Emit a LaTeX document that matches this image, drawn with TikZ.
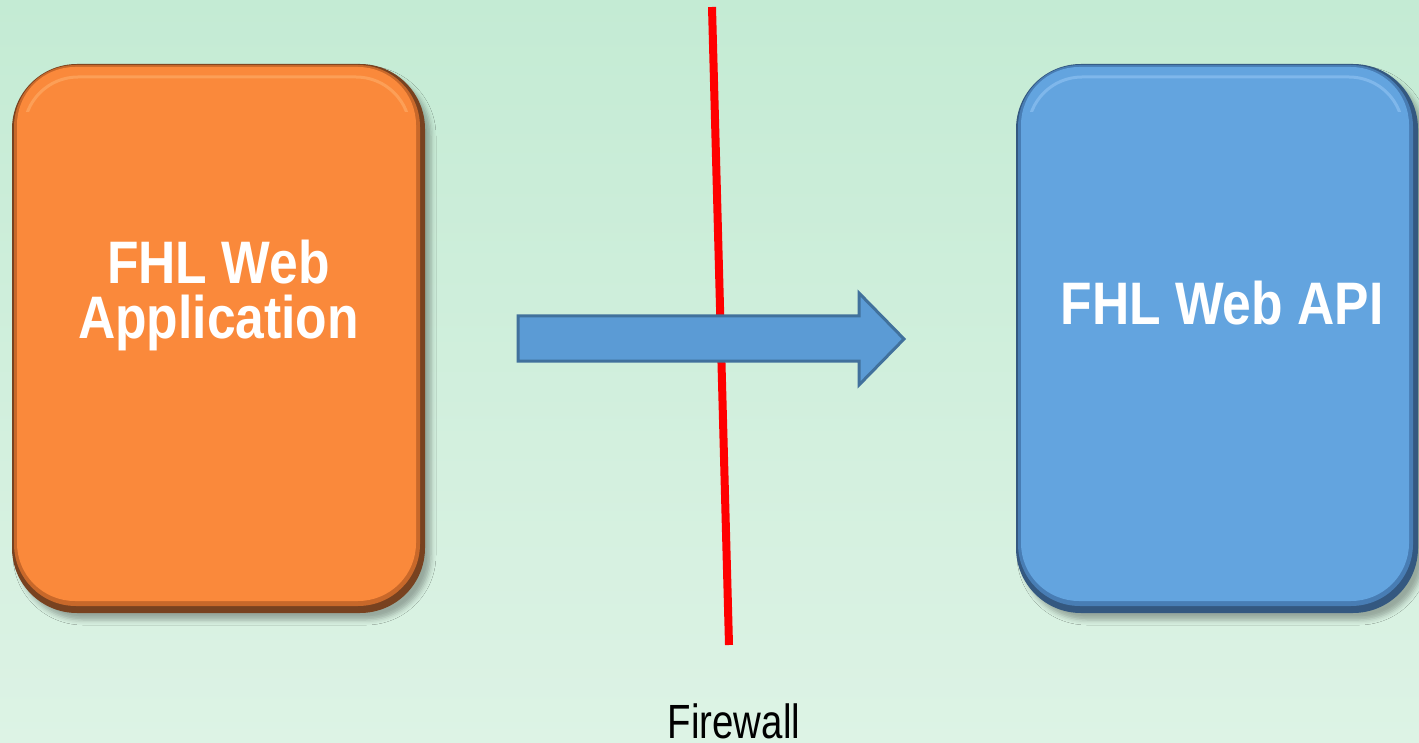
\documentclass[tikz,border=0pt]{standalone}
\usepackage{fontspec}
\setmainfont{Liberation Sans}
\newfontfamily\boxfont[FakeStretch=0.86]{Liberation Sans}
\newfontfamily\fwfont[FakeStretch=0.8]{Liberation Sans}
\usetikzlibrary{shadows.blur}
\definecolor{bgtop}{RGB}{196,235,212}
\definecolor{bgbot}{RGB}{221,243,229}
\definecolor{orM}{RGB}{250,137,59}
\definecolor{orMid}{RGB}{200,104,42}
\definecolor{orD}{RGB}{120,66,32}
\definecolor{orHi}{RGB}{255,178,110}
\definecolor{blM}{RGB}{99,164,223}
\definecolor{blMid}{RGB}{72,125,180}
\definecolor{blD}{RGB}{52,88,128}
\definecolor{blHi}{RGB}{150,200,245}
\definecolor{arF}{RGB}{91,155,213}
\definecolor{arS}{RGB}{65,113,156}
\tikzset{
  outerbox/.style={rounded corners=65pt, blur shadow={shadow xshift=6pt, shadow yshift=-7pt, shadow blur radius=5pt, shadow opacity=30}},
  midbox/.style={rounded corners=62pt},
  innerbox/.style={rounded corners=58pt},
  hiline/.style={line width=3pt, opacity=0.55, rounded corners=54pt},
  boxlabel/.style={text=white, inner sep=0pt, align=center, font=\boxfont\bfseries\fontsize{60}{55}\selectfont},
  fwlabel/.style={text=black, inner sep=0pt, font=\fwfont\fontsize{48}{50}\selectfont},
  firewall/.style={red, line width=8pt},
  flowarrow/.style={draw=arS, fill=arF, line width=3pt, line join=miter}
}
\begin{document}
\begin{tikzpicture}[x=1pt,y=-1pt]
\useasboundingbox (0,0) rectangle (1419,743);
\shade[top color=bgtop,bottom color=bgbot] (0,0) rectangle (1419,743);

% orange box
\fill[orD, outerbox] (12,64) rectangle (425,613);
\fill[orMid, midbox] (14,65) rectangle (420,606);
\fill[orM, innerbox] (17,67) rectangle (416,601);
\begin{scope}
  \clip (0,60) rectangle (1419,112);
  \draw[orHi, hiline] (24,77) rectangle (410,596);
\end{scope}

% blue box
\fill[blD, outerbox] (1016,64) rectangle (1418,613);
\fill[blMid, midbox] (1018,65) rectangle (1413,606);
\fill[blM, innerbox] (1021,67) rectangle (1409,601);
\begin{scope}
  \clip (1000,60) rectangle (1419,112);
  \draw[blHi, hiline] (1028,77) rectangle (1403,596);
\end{scope}

% firewall line
\coordinate (fwtop) at (712,7);
\coordinate (fwbot) at (729,645);
\draw[firewall] (fwtop) -- (fwbot);

% arrow
\draw[flowarrow] (518,316) -- (859,316) -- (859,293) -- (904,339) -- (859,385) -- (859,361) -- (518,361) -- cycle;

% labels
\node[boxlabel] (app) at (218.5,295) {FHL Web\\Application};
\node[boxlabel, anchor=base] (api) at (1222,324) {FHL Web API};
\node[fwlabel, anchor=base] (fw) at (734,738) {Firewall};
\end{tikzpicture}
\end{document}
